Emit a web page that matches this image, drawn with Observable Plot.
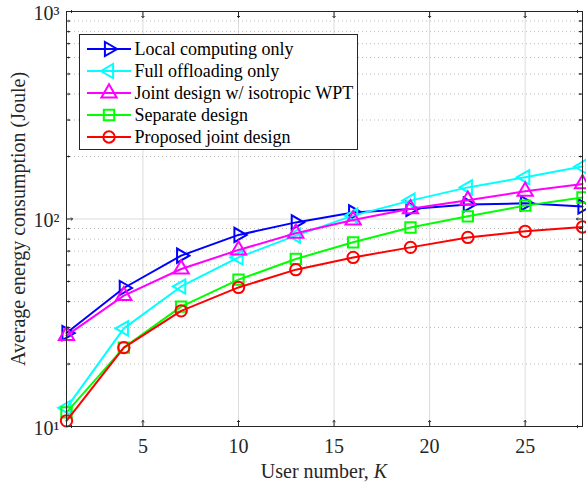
<!DOCTYPE html>
<html>
<head>
<meta charset="utf-8">
<script src="https://cdn.jsdelivr.net/npm/d3@7"></script>
<script src="https://cdn.jsdelivr.net/npm/@observablehq/plot@0.6"></script>
<style>
  html, body { margin: 0; padding: 0; background: #fff; }
  #chart { position: relative; width: 586px; height: 484px; }
</style>
</head>
<body>
<div id="chart"></div>
<script>
// ---- data ----
const K = [1, 4, 7, 10, 13, 16, 19, 22, 25, 28];
const localOnly = [28.2, 46.5, 66.6, 83.8, 96.3, 107.6, 111.8, 117.3, 119, 115];
const fullOffload = [12.3, 29.7, 47.3, 65.3, 83.2, 103.8, 122.6, 142, 159, 179];
const isoWPT = [27.4, 42.7, 57.4, 70.9, 85.3, 98.9, 112, 123, 136, 147.6];
const separate = [11.7, 24.0, 37.8, 51.0, 64.2, 77.2, 91, 103, 116, 127];
const proposed = [10.65, 24.0, 36.1, 46.8, 57.0, 65.3, 73.0, 81.5, 87.2, 91.5];

const seriesNames = ["Local computing only", "Full offloading only", "Joint design w/ isotropic WPT", "Separate design", "Proposed joint design"];
const seriesValues = [localOnly, fullOffload, isoWPT, separate, proposed];
const seriesColors = ["#0000ff", "#00ffff", "#ff00ff", "#00ff00", "#ff0000"];

const xTicks = [5, 10, 15, 20, 25];
const yMajor = [10, 100, 1000];
const yMinor = [20, 30, 40, 50, 60, 70, 80, 90, 200, 300, 400, 500, 600, 700, 800, 900];
const yTickLabels = {10: "10¹", 100: "10²", 1000: "10³"};

// ---- marker shapes ----
const triRight = {draw(c, s) { const r = Math.sqrt(s / Math.PI); c.moveTo(r, 0); c.lineTo(-r / 2, -r * 0.866); c.lineTo(-r / 2, r * 0.866); c.closePath(); }};
const triLeft = {draw(c, s) { const r = Math.sqrt(s / Math.PI); c.moveTo(-r, 0); c.lineTo(r / 2, -r * 0.866); c.lineTo(r / 2, r * 0.866); c.closePath(); }};
const triUp = {draw(c, s) { const r = Math.sqrt(s / Math.PI); c.moveTo(0, -r); c.lineTo(r * 0.866, r / 2); c.lineTo(-r * 0.866, r / 2); c.closePath(); }};
const square = {draw(c, s) { const r = Math.sqrt(s / Math.PI) * 0.72; c.rect(-r, -r, 2 * r, 2 * r); }};
const circle = {draw(c, s) { const r = Math.sqrt(s / Math.PI) * 0.72; c.moveTo(r, 0); c.arc(0, 0, r, 0, 2 * Math.PI); }};
const symbols = [triRight, triLeft, triUp, square, circle];
const symR = [8.2, 8.2, 8.8, 7.2, 7.9];

const rows = [];
seriesNames.forEach((name, i) => K.forEach((k, j) => rows.push({series: name, idx: i, K: k, E: seriesValues[i][j]})));

const font = "'Liberation Serif', 'Times New Roman', serif";
const ink = "#262626";

const marks = [
  Plot.gridX(xTicks, {stroke: "#dcdcdc", strokeOpacity: 1, strokeWidth: 1}),
  Plot.gridY(yMinor, {stroke: "#bdbdbd", strokeOpacity: 1, strokeWidth: 1, strokeDasharray: "1,3"}),
  Plot.gridY(yMajor, {stroke: "#dcdcdc", strokeOpacity: 1, strokeWidth: 1}),
];
seriesNames.forEach((name, i) => {
  const d = rows.filter(r => r.idx === i);
  marks.push(Plot.line(d, {x: "K", y: "E", stroke: seriesColors[i], strokeWidth: 2}));
  marks.push(Plot.dot(d, {x: "K", y: "E", stroke: seriesColors[i], fill: "none", strokeWidth: 2, symbol: symbols[i], r: symR[i]}));
});
marks.push(
  Plot.frame({stroke: ink, strokeWidth: 1}),
  // inward ticks
  Plot.vector(xTicks, {x: d => d, frameAnchor: "bottom", length: 6, rotate: 0, anchor: "start", stroke: ink, strokeWidth: 1}),
  Plot.vector(xTicks, {x: d => d, frameAnchor: "top", length: 6, rotate: 180, anchor: "start", stroke: ink, strokeWidth: 1}),
  Plot.vector(yMajor, {y: d => d, frameAnchor: "left", length: 6, rotate: 90, anchor: "start", stroke: ink, strokeWidth: 1}),
  Plot.vector(yMajor, {y: d => d, frameAnchor: "right", length: 6, rotate: -90, anchor: "start", stroke: ink, strokeWidth: 1}),
  Plot.vector(yMinor, {y: d => d, frameAnchor: "left", length: 3, rotate: 90, anchor: "start", stroke: ink, strokeWidth: 1}),
  Plot.vector(yMinor, {y: d => d, frameAnchor: "right", length: 3, rotate: -90, anchor: "start", stroke: ink, strokeWidth: 1}),
  Plot.axisX(xTicks, {anchor: "bottom", tickSize: 0, tickPadding: 12, fontSize: 20, label: null, fill: ink}),
  Plot.axisY(yMajor, {anchor: "left", tickSize: 0, tickPadding: 7, fontSize: 20, label: null, fill: ink, dy: 2, tickFormat: d => yTickLabels[d]}),
  Plot.text(["Average energy consumption (Joule)"], {frameAnchor: "left", dx: -48, rotate: -90, fontSize: 20, fill: ink, textAnchor: "middle"})
);

const plot = Plot.plot({
  width: 586, height: 484,
  marginLeft: 66, marginRight: 4, marginTop: 11, marginBottom: 58,
  style: {fontFamily: font, fontSize: "20px", color: ink, background: "#fff"},
  x: {domain: [1, 28]},
  y: {type: "log", domain: [10, 1000]},
  marks
});
document.getElementById("chart").appendChild(plot);

// x-axis label with italic K
const svg = d3.select(plot);
const xs = plot.scale("x");
const xc = (xs.range[0] + xs.range[1]) / 2;
const xl = svg.append("text").attr("x", xc).attr("y", 478).attr("text-anchor", "middle")
  .attr("font-size", 20).attr("fill", ink).attr("font-family", font);
xl.append("tspan").text("User number, ");
xl.append("tspan").attr("font-style", "italic").text("K");

// legend
const lg = svg.append("g").attr("font-family", font).attr("font-size", 18).attr("text-anchor", "start");
lg.append("rect").attr("x", 79.5).attr("y", 34.5).attr("width", 278).attr("height", 115)
  .attr("fill", "#fff").attr("stroke", ink).attr("stroke-width", 1);
seriesNames.forEach((name, i) => {
  const y = 49 + i * 22;
  lg.append("line").attr("x1", 87).attr("x2", 131).attr("y1", y).attr("y2", y)
    .attr("stroke", seriesColors[i]).attr("stroke-width", 2);
  lg.append("path").attr("transform", `translate(109,${y})`)
    .attr("d", d3.symbol().type(symbols[i]).size(Math.PI * symR[i] * symR[i])())
    .attr("fill", "none").attr("stroke", seriesColors[i]).attr("stroke-width", 2);
  lg.append("text").attr("x", 134.5).attr("y", y).attr("dy", "0.35em").attr("text-anchor", "start").attr("fill", "#000").text(name);
});
</script>
</body>
</html>
